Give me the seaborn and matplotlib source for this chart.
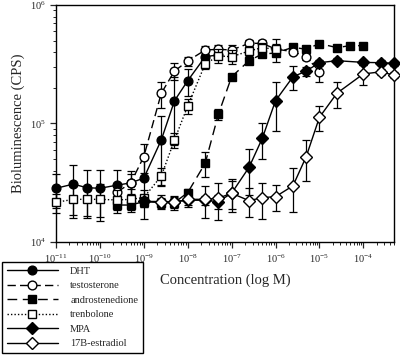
import matplotlib
matplotlib.use("Agg")
import matplotlib.pyplot as plt
import numpy as np
import pandas as pd
import seaborn as sns

# concentrations (M) and readings (CPS)
dht_x = [1e-11, 2.5e-11, 5e-11, 1e-10, 2.5e-10, 5e-10, 1e-9, 2.5e-9, 5e-9, 1e-8, 2.5e-8, 5e-8]
dht_y = [28400, 30800, 28700, 28400, 30200, 31500, 34600, 72600, 155600, 229700, 366000, 380000]
dht_e = [9000, 14000, 12000, 12000, 10000, 8000, 19000, 43000, 90000, 60000, 40000, 30000]

tes_x = [2.5e-10, 5e-10, 1e-9, 2.5e-9, 5e-9, 1e-8, 2.5e-8, 5e-8, 1e-7, 2.5e-7, 5e-7, 1e-6, 2.5e-6, 5e-6, 1e-5]
tes_y = [26500, 31300, 52500, 180000, 277000, 337000, 417000, 423000, 417000, 475000, 475000, 425000, 404000, 366000, 274000]
tes_e = [5000, 6000, 14000, 45000, 45000, 30000, 30000, 40000, 40000, 30000, 30000, 40000, 20000, 20000, 50000]

and_x = [2.5e-10, 5e-10, 1e-9, 2.5e-9, 5e-9, 1e-8, 2.5e-8, 5e-8, 1e-7, 2.5e-7, 5e-7, 1e-6, 2.5e-6, 5e-6, 1e-5, 2.5e-5, 5e-5, 1e-4]
and_y = [20500, 20500, 21900, 21500, 21500, 26100, 46100, 119700, 248000, 339000, 386000, 393000, 440000, 423000, 473000, 437000, 454000, 454000]
and_e = [2000, 2000, 2000, 2000, 2000, 2000, 11000, 12000, 15000, 15000, 10000, 10000, 10000, 10000, 10000, 10000, 10000, 10000]

tre_x = [1e-11, 2.5e-11, 5e-11, 1e-10, 2.5e-10, 5e-10, 1e-9, 2.5e-9, 5e-9, 1e-8, 2.5e-8, 5e-8, 1e-7, 2.5e-7, 5e-7, 1e-6]
tre_y = [21600, 22900, 22900, 22900, 22600, 22900, 23700, 36000, 72600, 140700, 318000, 372000, 366000, 409000, 437000, 423000]
tre_e = [4000, 7000, 7000, 8000, 5000, 5000, 4000, 6000, 10000, 20000, 30000, 50000, 50000, 40000, 40000, 90000]

mpa_x = [1e-9, 5e-9, 1e-8, 2.5e-8, 5e-8, 1e-7, 2.5e-7, 5e-7, 1e-6, 2.5e-6, 5e-6, 1e-5, 2.5e-5, 1e-4, 2.5e-4, 5e-4]
mpa_y = [22000, 21900, 22500, 22500, 21900, 25800, 42700, 75000, 155600, 248000, 277000, 326000, 339000, 328000, 326000, 322000]
mpa_e = [2000, 2000, 2000, 2000, 3000, 7000, 18000, 25000, 70000, 56000, 25000, 20000, 15000, 15000, 15000, 15000]

est_x = [2.5e-9, 5e-9, 1e-8, 2.5e-8, 5e-8, 1e-7, 2.5e-7, 5e-7, 1e-6, 2.5e-6, 5e-6, 1e-5, 2.5e-5, 1e-4, 2.5e-4, 5e-4]
est_y = [21900, 21600, 22900, 22900, 23400, 25800, 22300, 23700, 24100, 29800, 52500, 112700, 180000, 262000, 273000, 256000]
est_e = [3000, 3000, 3000, 7000, 8000, 8000, 6000, 8000, 6000, 12000, 20000, 27000, 45000, 50000, 15000, 15000]

labels = ["DHT", "testosterone", "androstenedione", "trenbolone", "MPA", "17B-estradiol"]

series = [
    (dht_x, dht_y, dht_e, "o", "black", (None, None), 3),
    (tes_x, tes_y, tes_e, "o", "white", (6, 3), 4),
    (and_x, and_y, and_e, "s", "black", (7, 4), 2),
    (tre_x, tre_y, tre_e, "s", "white", (1, 1.5), 5),
    (mpa_x, mpa_y, mpa_e, "D", "black", (None, None), 6),
    (est_x, est_y, est_e, "D", "white", (None, None), 7),
]

sns.set_style("ticks")
plt.rcParams["font.family"] = ["Liberation Serif", "DejaVu Serif"]
plt.rcParams["mathtext.fontset"] = "stix"

fig = plt.figure(figsize=(4.0, 3.59), dpi=100)
ax = fig.add_axes([0.14, 0.326, 0.845, 0.66])

handles = []
for (xs, ys, es, mk, fc, dash, z), lab in zip(series, labels):
    df = pd.DataFrame({"x": xs, "y": ys})
    ax.errorbar(xs, ys, yerr=es, fmt="none", ecolor="black", elinewidth=0.9,
                capsize=3, capthick=0.9, zorder=z, clip_on=False)
    sns.lineplot(data=df, x="x", y="y", ax=ax, color="black", linewidth=1.0,
                 marker=mk, markersize=6.3,
                 markerfacecolor=fc, markeredgecolor="black", markeredgewidth=1.0,
                 zorder=z, label=lab, clip_on=False, legend=False)
    line = ax.lines[-1]
    if dash[0] is not None:
        line.set_dashes(dash)
    handles.append(line)

ax.set_xscale("log")
ax.set_yscale("log")
ax.set_xlim(1e-11, 5e-4)
ax.set_ylim(1e4, 1e6)
ax.set_xticks([1e-11, 1e-10, 1e-9, 1e-8, 1e-7, 1e-6, 1e-5, 1e-4])
ax.set_yticks([1e4, 1e5, 1e6])
ax.tick_params(axis="both", which="major", labelsize=7.5, length=4, width=0.9, direction="out")
ax.tick_params(axis="both", which="minor", length=2.5, width=0.7, direction="out")
for s in ax.spines.values():
    s.set_linewidth(1.0)
    s.set_color("black")

ax.set_xlabel("Concentration (log M)", fontsize=10.5, labelpad=6)
ax.set_ylabel("Bioluminescence (CPS)", fontsize=10.5, labelpad=3)

fig.legend(handles=handles, labels=labels, loc="lower left",
           bbox_to_anchor=(-0.008, 0.002), frameon=True, fancybox=False,
           edgecolor="black", framealpha=1, fontsize=7.5, handlelength=4.9,
           handletextpad=1.2, borderpad=0.45, labelspacing=0.5)

fig.savefig("out.png", dpi=100)
